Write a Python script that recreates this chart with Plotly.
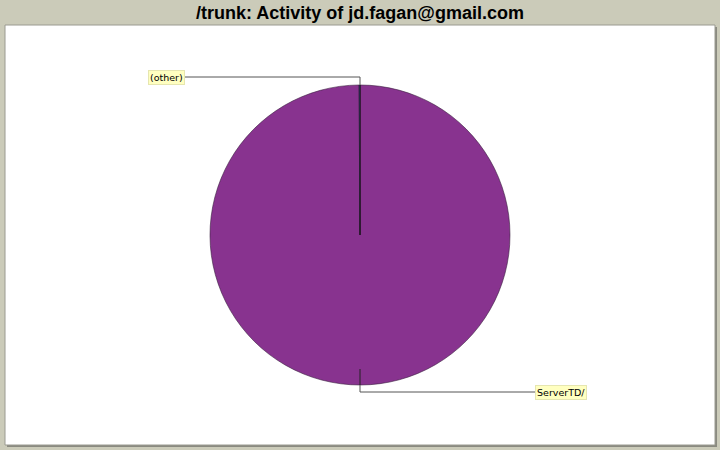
import plotly.graph_objects as go

labels = ["ServerTD/", "(other)"]
values = [99.9, 0.1]
colors = ["#88338f", "#3366cc"]
title = "/trunk: Activity of jd.fagan@gmail.com"

W, H = 720, 450
def xp(px): return px / W
def yp(py): return 1 - py / H

fig = go.Figure()
fig.add_trace(go.Pie(
    labels=labels, values=values, sort=False, direction="clockwise", rotation=0,
    marker=dict(colors=colors, line=dict(color="#3a2040", width=0.6)),
    textinfo="none", hoverinfo="label+percent", showlegend=False,
    domain=dict(x=[xp(210), xp(510)], y=[yp(385), yp(85)]),
))

shapes = [
    dict(type="rect", xref="paper", yref="paper", x0=xp(7), x1=xp(717), y0=yp(447), y1=yp(27),
         fillcolor="#8a8a80", line=dict(width=0), layer="below"),
    dict(type="rect", xref="paper", yref="paper", x0=xp(5), x1=xp(715), y0=yp(445), y1=yp(25),
         fillcolor="white", line=dict(color="#9a9a90", width=1), layer="below"),
    dict(type="path", xref="paper", yref="paper",
         path=f"M {xp(360)},{yp(235)} L {xp(360)},{yp(85)}",
         line=dict(color="#111111", width=1)),
    dict(type="path", xref="paper", yref="paper",
         path=f"M {xp(360)},{yp(85)} L {xp(360)},{yp(77)} L {xp(185)},{yp(77)}",
         line=dict(color="#555555", width=1)),
    dict(type="path", xref="paper", yref="paper",
         path=f"M {xp(360)},{yp(369)} L {xp(360)},{yp(385)}",
         line=dict(color="#222222", width=1)),
    dict(type="path", xref="paper", yref="paper",
         path=f"M {xp(360)},{yp(385)} L {xp(360)},{yp(392)} L {xp(536)},{yp(392)}",
         line=dict(color="#555555", width=1)),
]

lab_font = dict(family="DejaVu Sans", size=9.5, color="black")
annotations = [
    dict(text="<b>" + title + "</b>", x=0.5, y=yp(13), xref="paper", yref="paper", showarrow=False,
         font=dict(family="Liberation Sans, Arial", size=18, color="black"), xanchor="center", yanchor="middle"),
    dict(text="(other)", x=xp(148), y=yp(77), xref="paper", yref="paper", showarrow=False,
         xanchor="left", yanchor="middle", bgcolor="#ffffc0", bordercolor="#e6e6b0", borderwidth=1, borderpad=1,
         font=lab_font),
    dict(text="ServerTD/", x=xp(535), y=yp(392), xref="paper", yref="paper", showarrow=False,
         xanchor="left", yanchor="middle", bgcolor="#ffffc0", bordercolor="#e6e6b0", borderwidth=1, borderpad=1,
         font=lab_font),
]

fig.update_layout(
    width=W, height=H, margin=dict(l=0, r=0, t=0, b=0),
    paper_bgcolor="#cbcbb9", plot_bgcolor="#cbcbb9",
    shapes=shapes, annotations=annotations,
)
fig.write_html("out.html", config={"displayModeBar": False},
               post_script="document.body.style.margin='0';document.body.style.overflow='hidden';")
